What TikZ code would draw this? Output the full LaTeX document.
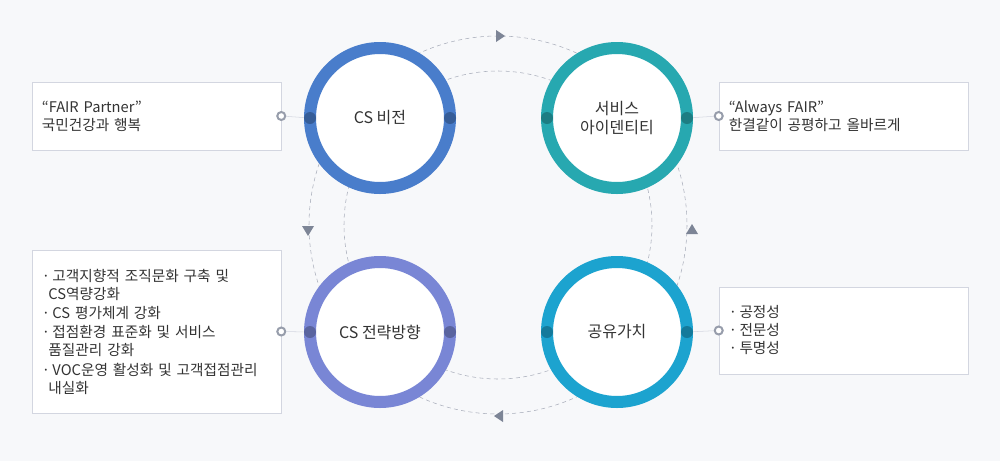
\documentclass[tikz,border=0pt]{standalone}
\usepackage{fontspec}
\setmainfont{Noto Sans CJK KR}
\usetikzlibrary{positioning}
\definecolor{bgc}{HTML}{F7F8FA}
\definecolor{ringA}{HTML}{497DCB}
\definecolor{ringB}{HTML}{27A8B0}
\definecolor{ringC}{HTML}{7986D5}
\definecolor{ringD}{HTML}{1CA3CF}
\definecolor{dashc}{HTML}{A8ADBA}
\definecolor{tipc}{HTML}{7D8596}
\definecolor{boxc}{HTML}{D3D6E0}
\definecolor{txtc}{HTML}{333333}
\tikzset{
  ring/.style={circle, draw=#1, line width=9pt, fill=white, minimum size=105pt, align=center, font=\fontsize{12}{14.5}\selectfont, text=txtc},
  infobox/.style={draw=boxc, fill=white, minimum width=186.75pt, text width=172pt, inner xsep=7pt, align=left, font=\fontsize{11}{13.5}\selectfont, text=txtc},
  joint/.style={circle, fill=black, fill opacity=0.25, minimum size=9pt, inner sep=0pt},
  port/.style={circle, draw=tipc!80, line width=1.5pt, fill=white, minimum size=6pt, inner sep=0pt},
  tri/.style={fill=tipc},
}
\begin{document}
\begin{tikzpicture}[x=0.75pt,y=-0.75pt]
  \fill[bgc] (0,0) rectangle (1000,461);

  % dashed orbits
  \draw[dashc, dash pattern=on 3pt off 2.5pt] (498,225) circle[radius=189];
  \draw[dashc, dash pattern=on 3pt off 2.5pt] (498,225) circle[radius=154];

  % direction marks
  \fill[tri] (505,36) -- (496,30) -- (496,42) -- cycle;
  \fill[tri] (692,224) -- (686,234) -- (698,234) -- cycle;
  \fill[tri] (494,416) -- (503,410) -- (503,422) -- cycle;
  \fill[tri] (308,236) -- (302,226) -- (314,226) -- cycle;

  % circles
  \node[ring=ringA] (vision) at (380,118) {CS 비전};
  \node[ring=ringB] (ident) at (617,118) {서비스\\아이덴티티};
  \node[ring=ringC] (strat) at (380,332) {CS 전략방향};
  \node[ring=ringD] (value) at (617,332) {공유가치};

  % ring dots
  \foreach \c in {vision,ident,strat,value} {
    \node[joint] (\c-l) at ([xshift=4.5pt]\c.west) {};
    \node[joint] (\c-r) at ([xshift=-4.5pt]\c.east) {};
  }

  % boxes
  \node[infobox, minimum height=51pt] (boxA) at (156.5,116) {“FAIR Partner”\\국민건강과 행복};
  \node[infobox, minimum height=51pt] (boxB) at (843.5,116) {“Always FAIR”\\한결같이 공평하고 올바르게};
  \node[infobox, minimum height=122pt] (boxC) at (156.5,331.5) {%
    ·\,고객지향적 조직문화 구축 및\\\hspace*{0.45em}CS역량강화\\[1pt]
    ·\,CS 평가체계 강화\\[1pt]
    ·\,접점환경 표준화 및 서비스\\\hspace*{0.45em}품질관리 강화\\[1pt]
    ·\,VOC운영 활성화 및 고객접점관리\\\hspace*{0.45em}내실화};
  \node[infobox, minimum height=65pt] (boxD) at (843.5,330.5) {·\,공정성\\·\,전문성\\·\,투명성};

  % connectors
  \node[port] (pA) at (boxA.east) {};
  \node[port] (pB) at (boxB.west) {};
  \node[port] (pC) at (boxC.east) {};
  \node[port] (pD) at (boxD.west) {};
  \draw[boxc] (pA) -- (vision-l);
  \draw[boxc] (pB) -- (ident-r);
  \draw[boxc] (pC) -- (strat-l);
  \draw[boxc] (pD) -- (value-r);
\end{tikzpicture}
\end{document}
